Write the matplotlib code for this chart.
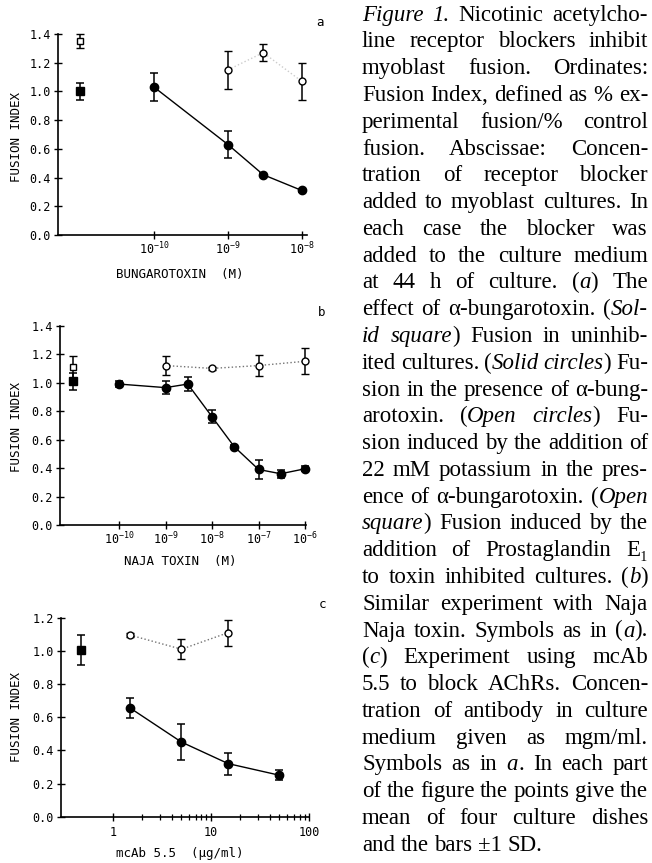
import matplotlib
matplotlib.use("Agg")
import matplotlib.pyplot as plt
from matplotlib.font_manager import FontProperties
from matplotlib.ticker import FixedLocator, NullLocator

plt.rcParams['font.family'] = ['DejaVu Sans Mono']
plt.rcParams['mathtext.fontset'] = 'custom'
plt.rcParams['mathtext.rm'] = 'DejaVu Sans Mono'
plt.rcParams['mathtext.it'] = 'DejaVu Sans Mono'
plt.rcParams['mathtext.bf'] = 'DejaVu Sans Mono'

# ---- panel a: alpha-bungarotoxin (M) ----
a_ctrl_x = [1e-11]
a_ctrl_y = [1.00]
a_ctrl_sd = [0.06]
a_pge_y = [1.35]
a_pge_sd = [0.05]
a_tox_x = [1e-10, 1e-9, 3e-9, 1e-8]
a_tox_y = [1.03, 0.63, 0.42, 0.31]
a_tox_sd = [0.10, 0.095, 0.012, 0.012]
a_k_x = [1e-9, 3e-9, 1e-8]
a_k_y = [1.15, 1.27, 1.07]
a_k_sd = [0.13, 0.058, 0.128]
a_ticks = [1e-10, 1e-9, 1e-8]
a_ticklabels = [r'$10^{-10}$', r'$10^{-9}$', r'$10^{-8}$']

# ---- panel b: Naja toxin (M) ----
b_ctrl_x = [1e-11]
b_ctrl_y = [1.01]
b_ctrl_sd = [0.06]
b_pge_y = [1.11]
b_pge_sd = [0.075]
b_tox_x = [1e-10, 1e-9, 3e-9, 1e-8, 3e-8, 1e-7, 3e-7, 1e-6]
b_tox_y = [0.99, 0.965, 0.99, 0.76, 0.55, 0.39, 0.36, 0.395]
b_tox_sd = [0.02, 0.046, 0.052, 0.047, 0.012, 0.07, 0.028, 0.016]
b_k_x = [1e-9, 1e-8, 1e-7, 1e-6]
b_k_y = [1.12, 1.10, 1.12, 1.15]
b_k_sd = [0.066, 0.01, 0.076, 0.091]
b_ticks = [1e-10, 1e-9, 1e-8, 1e-7, 1e-6]
b_ticklabels = [r'$10^{-10}$', r'$10^{-9}$', r'$10^{-8}$', r'$10^{-7}$', r'$10^{-6}$']

# ---- panel c: mcAb 5.5 (ug/ml) ----
c_ctrl_x = [0.47]
c_ctrl_y = [1.005]
c_ctrl_sd = [0.09]
c_tox_x = [1.5, 5, 15, 50]
c_tox_y = [0.655, 0.45, 0.32, 0.25]
c_tox_sd = [0.06, 0.11, 0.067, 0.03]
c_k_x = [1.5, 5, 15]
c_k_y = [1.095, 1.01, 1.11]
c_k_sd = [0.01, 0.06, 0.078]
c_ticks = [1, 10, 100]
c_ticklabels = ['1', '10', '100']

caption = [
    "{Figure 1.} Nicotinic acetylcho-",
    "line receptor blockers inhibit",
    "myoblast fusion. Ordinates:",
    "Fusion Index, defined as % ex-",
    "perimental fusion/% control",
    "fusion. Abscissae: Concen-",
    "tration of receptor blocker",
    "added to myoblast cultures. In",
    "each case the blocker was",
    "added to the culture medium",
    "at 44 h of culture. ({a}) The",
    "effect of α-bungarotoxin. ({Sol-}",
    "{id square}) Fusion in uninhib-",
    "ited cultures. ({Solid circles}) Fu-",
    "sion in the presence of α-bung-",
    "arotoxin. ({Open circles}) Fu-",
    "sion induced by the addition of",
    "22 mM potassium in the pres-",
    "ence of α-bungarotoxin. ({Open}",
    "{square}) Fusion induced by the",
    "addition of Prostaglandin E₁",
    "to toxin inhibited cultures. ({b})",
    "Similar experiment with Naja",
    "Naja toxin. Symbols as in ({a}).",
    "({c}) Experiment using mcAb",
    "5.5 to block AChRs. Concen-",
    "tration of antibody in culture",
    "medium given as mgm/ml.",
    "Symbols as in {a}. In each part",
    "of the figure the points give the",
    "mean of four culture dishes",
    "and the bars ±1 SD.",
]

W, H = 652, 863
fig = plt.figure(figsize=(W / 100, H / 100), dpi=100)


def px_axes(left, right, y0, ytop):
    return fig.add_axes([left / W, 1 - y0 / H, (right - left) / W, (y0 - ytop) / H])


def draw_panel(ax, ctrl_x, ctrl_y, ctrl_sd, pge_y, pge_sd, tox_x, tox_y, tox_sd,
               k_x, k_y, k_sd, dot_color):
    ax.plot(k_x, k_y, ':', color=dot_color, lw=1.0, zorder=1)
    ax.errorbar(tox_x, tox_y, yerr=tox_sd, fmt='o-', color='k', ms=6, lw=1.0,
                elinewidth=1.1, capsize=3, capthick=1.1, zorder=3, clip_on=False)
    ax.errorbar(k_x, k_y, yerr=k_sd, fmt='o', mfc='white', mec='k', mew=1.0,
                ms=5, ecolor='k', elinewidth=1.1, capsize=3, capthick=1.1,
                zorder=3, clip_on=False)
    ax.errorbar(ctrl_x, ctrl_y, yerr=ctrl_sd, fmt='s', color='k', ms=5.5,
                elinewidth=1.1, capsize=3, capthick=1.1, zorder=3, clip_on=False)
    if pge_y is not None:
        ax.errorbar(ctrl_x, pge_y, yerr=pge_sd, fmt='s', mfc='white', mec='k',
                    mew=1.0, ms=5, ecolor='k', elinewidth=1.1, capsize=3,
                    capthick=1.1, zorder=4, clip_on=False)


def style_axes(ax, xlim, ylim, yticks, xticks, xticklabels):
    ax.set_xscale('log')
    ax.set_xlim(*xlim)
    ax.set_ylim(*ylim)
    for s in ('top', 'right'):
        ax.spines[s].set_visible(False)
    for s in ('left', 'bottom'):
        ax.spines[s].set_linewidth(1.2)
    ax.xaxis.set_major_locator(FixedLocator(xticks))
    ax.set_xticklabels(xticklabels)
    ax.xaxis.set_minor_locator(NullLocator())
    ax.set_yticks(yticks)
    ax.set_yticklabels([f'{v:.1f}' for v in yticks])
    ax.tick_params(axis='both', which='major', direction='inout', length=6,
                   width=1.0, labelsize=8.5, pad=2)
    ax.tick_params(axis='x', pad=1)
    ax.patch.set_alpha(0)


def labels(xlabel, xl_y, yl_y):
    fig.text(180 / W, 1 - xl_y / H, xlabel, fontsize=9, ha='center', va='center')
    fig.text(17 / W, 1 - yl_y / H, 'FUSION INDEX', fontsize=9, ha='center',
             va='center', rotation=90)


# panel a
ax_a = px_axes(58, 307, 235, 34)
draw_panel(ax_a, a_ctrl_x, a_ctrl_y, a_ctrl_sd, a_pge_y, a_pge_sd, a_tox_x, a_tox_y,
           a_tox_sd, a_k_x, a_k_y, a_k_sd, '0.8')
style_axes(ax_a, (10 ** -11.3, 10 ** -7.93), (0, 1.4), [0, .2, .4, .6, .8, 1.0, 1.2, 1.4],
           a_ticks, a_ticklabels)
labels('BUNGAROTOXIN  (M)', 274, 137)

# panel b
ax_b = px_axes(60, 306, 525, 325.7)
draw_panel(ax_b, b_ctrl_x, b_ctrl_y, b_ctrl_sd, b_pge_y, b_pge_sd, b_tox_x, b_tox_y,
           b_tox_sd, b_k_x, b_k_y, b_k_sd, '0.45')
style_axes(ax_b, (10 ** -11.27, 10 ** -5.98), (0, 1.4), [0, .2, .4, .6, .8, 1.0, 1.2, 1.4],
           b_ticks, b_ticklabels)
labels('NAJA TOXIN  (M)', 562, 427)

# panel c
ax_c = px_axes(61, 309, 816.7, 617.7)
draw_panel(ax_c, c_ctrl_x, c_ctrl_y, c_ctrl_sd, None, None, c_tox_x, c_tox_y,
           c_tox_sd, c_k_x, c_k_y, c_k_sd, '0.45')
style_axes(ax_c, (10 ** -0.53, 100), (0, 1.2), [0, .2, .4, .6, .8, 1.0, 1.2],
           c_ticks, c_ticklabels)
ax_c.xaxis.set_minor_locator(FixedLocator([m * d for d in (1, 10) for m in range(2, 10)]))
ax_c.tick_params(axis='x', which='minor', direction='inout', length=5, width=0.9)
ax_c.tick_params(axis='x', pad=4)
labels('mcAb 5.5  (μg/ml)', 853, 717)

fig.text(320 / W, 1 - 23 / H, 'a', fontsize=9, ha='center', va='center')
fig.text(322 / W, 1 - 313 / H, 'b', fontsize=9, ha='center', va='center')
fig.text(322 / W, 1 - 605 / H, 'c', fontsize=9, ha='center', va='center')


# ---- caption, justified column ----
def parse_line(s):
    words, cur, buf, ital = [], [], '', False
    for ch in s:
        if ch in '{}':
            if buf:
                cur.append((buf, ital))
                buf = ''
            ital = ch == '{'
        elif ch == ' ':
            if buf:
                cur.append((buf, ital))
                buf = ''
            if cur:
                words.append(cur)
                cur = []
        else:
            buf += ch
    if buf:
        cur.append((buf, ital))
    if cur:
        words.append(cur)
    return words


renderer = fig.canvas.get_renderer()
cap_left, cap_right = 362, 648
base0, step = 20.7, (850.7 - 20.7) / (len(caption) - 1)
parsed = [parse_line(s) for s in caption]


def props(fs):
    fam = ['Liberation Serif', 'DejaVu Serif']
    return (FontProperties(family=fam, size=fs),
            FontProperties(family=fam, size=fs, style='italic'))


def width(txt, prop):
    return renderer.get_text_width_height_descent(txt, prop, ismath=False)[0]


fs = 19.0
while True:
    reg, itl = props(fs)
    ok = True
    for words in parsed[:-1]:
        tot = sum(width(t, itl if i else reg) for w in words for t, i in w)
        if tot + (len(words) - 1) * 0.2 * fs * 100 / 72 > cap_right - cap_left:
            ok = False
            break
    if ok:
        break
    fs -= 0.1

reg, itl = props(fs)
for li, words in enumerate(parsed):
    ws = [sum(width(t, itl if i else reg) for t, i in w) for w in words]
    if li < len(parsed) - 1 and len(words) > 1:
        gap = (cap_right - cap_left - sum(ws)) / (len(words) - 1)
    else:
        gap = 0.25 * fs * 100 / 72
    x = cap_left
    y = 1 - (base0 + li * step) / H
    for w, ww in zip(words, ws):
        cx = x
        for t, i in w:
            p = itl if i else reg
            fig.text(cx / W, y, t, fontproperties=p, ha='left', va='baseline')
            cx += width(t, p)
        x += ww + gap

fig.savefig('out.png', dpi=100)
